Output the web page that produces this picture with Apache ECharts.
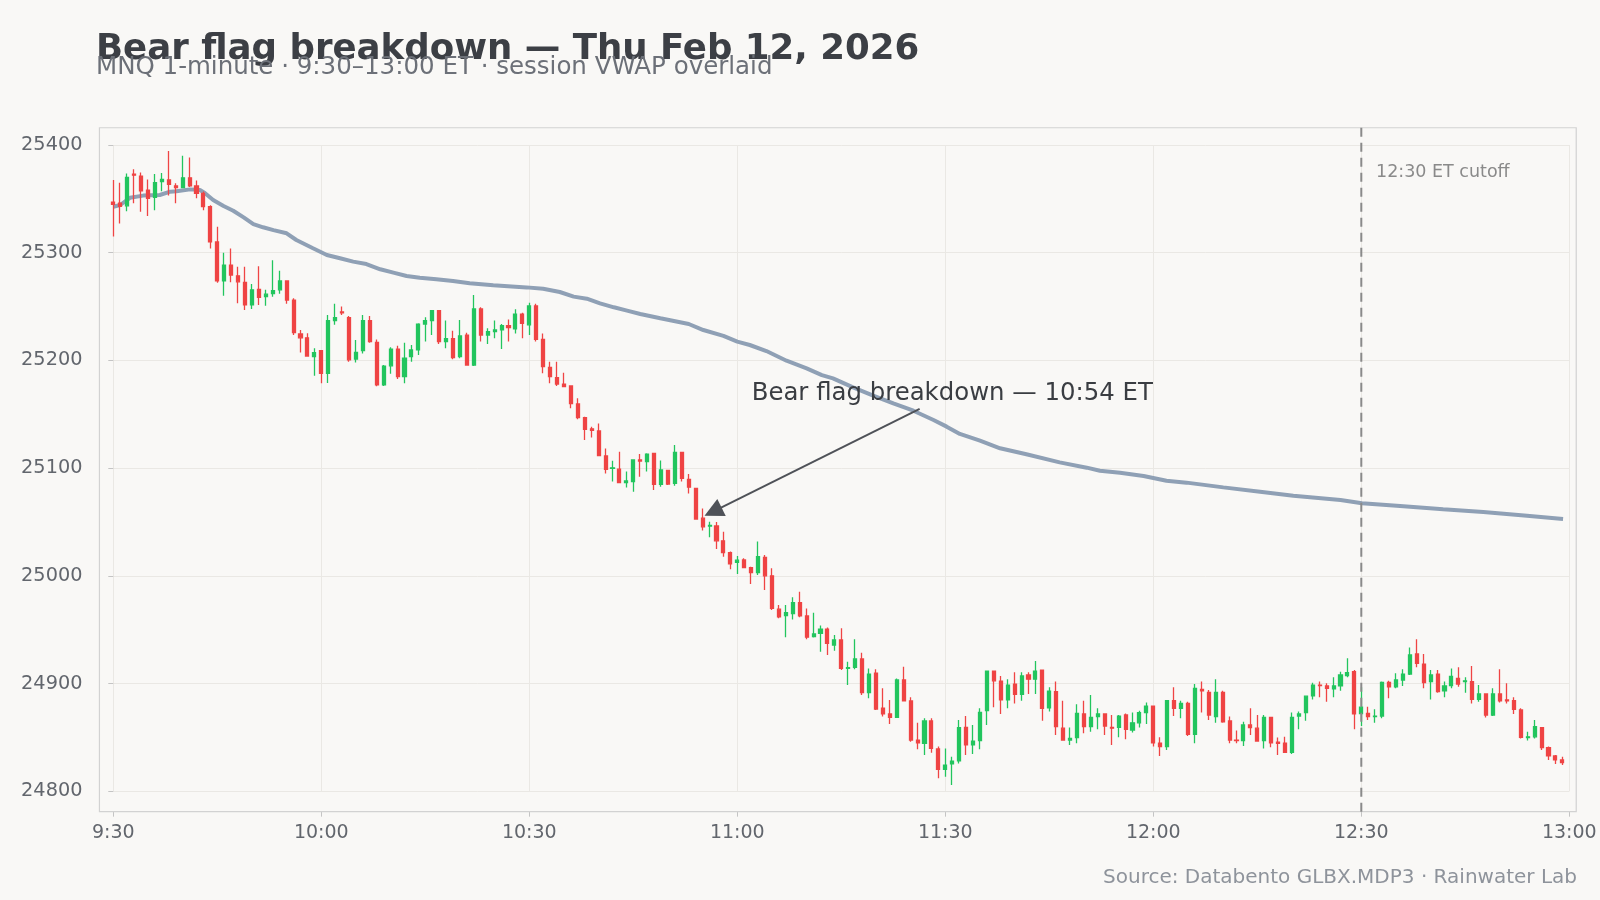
<!DOCTYPE html>
<html>
<head>
<meta charset="utf-8">
<script src="https://cdn.jsdelivr.net/npm/echarts@6/dist/echarts.min.js"></script>
<style>
html,body{margin:0;padding:0;background:#f9f8f6;}
#c{width:1600px;height:900px;}
</style>
</head>
<body>
<div id="c"></div>
<script>
// ---- data (minute index 0 = 9:30 ET) ----
const opens = [
25347,25346,25343.5,25373,25371,25358,25351.5,25366,25367.5,25362,
25360.5,25369.5,25362,25355,25342.75,25310,25273.75,25288.5,25278.5,25272.5,
25251.5,25266,25259.25,25262,25265.5,25273.75,25256,25224.5,25221,25203.5,
25209,25188,25237,25245,25239.75,25201.25,25209,25237,25216.75,25177.25,
25195,25210.5,25185,25203.5,25209.75,25233.75,25237,25246.25,25217.5,25220.25,
25203.5,25223.5,25195.75,25247.75,25223.5,25226.75,25228.25,25232.25,25229.25,25243,
25233,25250.5,25219.5,25193.5,25184,25178,25176.25,25159.5,25146.75,25136.5,
25134.5,25111.25,25099.75,25099,25086.5,25087.5,25107.5,25106,25113.75,25085,
25097.75,25085.75,25114.5,25089.5,25081.25,25053.5,25046.25,25046.25,25032.5,25021.5,
25012.5,25014.75,25007.5,25003,25017,25000,24969,24963,24965,24975,
24962.75,24943.5,24946.5,24950.5,24935.75,24940.5,24914,24915,24922.75,24891.5,
24909.5,24877,24871.75,24868.5,24903.25,24883.75,24847.5,24844.5,24865.25,24839.25,
24820.25,24825.5,24828.25,24859.25,24843,24847,24874.75,24911.5,24902.25,24884.75,
24899.5,24890,24908,24904,24912.5,24877.5,24892.5,24858.5,24847.5,24849.75,
24871.75,24860,24869.25,24871.75,24859.25,24859.25,24870.75,24856.75,24863.5,24873,
24879,24844.5,24841.5,24884,24877,24881.5,24852.75,24894.5,24891.75,24869.25,
24891.75,24865.25,24847.5,24847,24861.5,24858.5,24847,24868.5,24845.5,24844.5,
24836,24869.75,24873,24888.5,24898.5,24897.75,24895,24897.75,24907.25,24911,
24872,24872.25,24869.25,24869.75,24901,24897,24903.25,24908.75,24927.5,24918,
24901.75,24908.75,24893.25,24898,24904.75,24901.75,24901.75,24885.25,24890.25,24870.75,
24890.25,24884.75,24884,24875.5,24849.75,24850.5,24859,24840.5,24832.75,24829
];
const highs = [
25367.5,25365,25373.5,25377.5,25374.5,25368,25373,25374,25394.5,25364.5,
25390,25388.5,25367,25356.75,25344,25324,25300,25304,25287,25287,
25271,25287.5,25265.5,25293,25283.25,25274.5,25257.75,25228.25,25225.25,25211.25,
25209.5,25242.25,25252.5,25250,25241.25,25219,25242.25,25241.25,25219.5,25195.75,
25212.25,25213.5,25216.5,25214.25,25234.5,25240,25246.75,25246.75,25237,25227.5,
25237.5,25225.75,25260.75,25249.25,25229.75,25237,25233.75,25238,25247.5,25244.25,
25253.5,25252.5,25225,25198.75,25198.75,25188.5,25176.5,25164.75,25147.75,25138.5,
25141.5,25118.25,25106.75,25115.25,25096.75,25108,25113,25113.75,25114,25107,
25098.25,25121.5,25115.25,25094.5,25081.5,25062.5,25050.25,25050,25041,25022.5,
25018.5,25016.25,25008.5,25031.75,25019.25,25007,24973,24973,24980,24985.25,
24969.75,24965.75,24953.75,24952,24945,24951.25,24920.25,24941,24928.5,24914,
24913.25,24895.5,24884.75,24904.75,24915.5,24887.25,24863.5,24867.75,24867.75,24841.5,
24839.75,24832,24866,24869.75,24861.5,24877,24911.5,24911.75,24907,24904,
24910.5,24910.5,24910.5,24921,24912.75,24896.5,24901.75,24884,24859.25,24880.75,
24884,24889.25,24877,24872,24870.75,24870.75,24872.25,24873,24874.75,24882.25,
24879.25,24850,24884.75,24896.5,24884,24883,24899.5,24901.75,24894,24904,
24893.25,24869.25,24856.25,24864.5,24877,24870.75,24870.75,24868.75,24849.75,24850.5,
24873,24874,24888.5,24900.75,24901.75,24900.25,24905.75,24911,24923.5,24912.5,
24896.5,24878.5,24876,24901.75,24902.5,24909.5,24913.25,24933.5,24941,24927.5,
24912.5,24912.5,24901.75,24914,24915,24905.75,24916.25,24898.5,24890.5,24895.5,
24913.25,24900.25,24887.25,24877,24855.25,24866,24859.25,24841.5,24833.5,24832
];
const lows = [
25315,25327,25338.5,25346,25338,25334,25339.5,25357,25353,25346,
25360,25361,25350.5,25339.5,25304,25272,25260,25272.5,25253,25246.75,
25247.75,25251.5,25250.75,25259,25262,25252.5,25223.5,25207.25,25203.5,25185.75,
25178.75,25179,25233,25242.25,25198.75,25198,25206.5,25216.5,25176,25176.25,
25187.5,25182.75,25178.75,25198.75,25205,25217.5,25223.5,25215.25,25211.25,25201,
25202,25195.5,25194.75,25217.5,25215.25,25220.5,25210.5,25217.5,25225,25220.5,
25223.5,25217.5,25188,25178.75,25176.25,25175.5,25155.5,25145.25,25126,25128.5,
25111,25095,25087.5,25086,25082,25078,25092,25096.75,25079.75,25082.75,
25084.25,25083.5,25087.5,25076.5,25052.5,25042,25035.75,25025,25017.75,25006,
25001.75,25007,24992.5,25000.75,24986.75,24968.25,24960.5,24943,24959.5,24961.5,
24941,24942.75,24929.5,24926.5,24930.5,24912.5,24898.5,24913.25,24889.25,24886.25,
24875.5,24869.25,24862.5,24868.25,24883.25,24846,24839,24833.5,24835.75,24812,
24813.5,24805.75,24825.75,24833.5,24834.5,24839,24861.5,24878,24871.75,24877,
24881.5,24884,24890.25,24890.25,24865.5,24874,24852.25,24847.25,24843,24844.5,
24853.75,24855.25,24857.5,24852.25,24843,24850,24848.25,24854.5,24859.25,24862.5,
24841.5,24832.75,24838.25,24869.75,24867.75,24851.25,24844.5,24873,24866,24863.5,
24863.5,24844.5,24844.5,24842,24852.25,24846,24839.75,24840.75,24833.5,24835.75,
24834.5,24857.5,24865.5,24885.25,24887.25,24883,24887.25,24893.25,24905.75,24857.5,
24860.5,24866,24863.5,24867.75,24886.25,24895.5,24897.75,24908,24915,24895.5,
24885.25,24891.5,24887.25,24895.5,24897,24891.5,24881.5,24883,24868.5,24869.75,
24882.25,24881.5,24871.75,24849,24847,24849,24838.25,24829,24825.25,24824.25
];
const closes = [
25345,25343,25370,25372,25357.5,25350.5,25365,25368,25363.5,25360.5,
25369.5,25362,25355,25342.75,25310,25273.75,25288.5,25279.25,25273,25251.5,
25265.5,25258.5,25261.5,25264.75,25273.75,25256,25225.75,25221,25204,25207.25,
25188,25237,25239.75,25244.25,25200.5,25207.5,25237,25217.5,25177.25,25194.75,
25210.5,25185,25202,25209.75,25233.75,25237,25246.25,25217.5,25220.25,25202.5,
25222.75,25195.75,25247.75,25223.5,25226.75,25228.25,25232.25,25230.5,25243,25234.5,
25250.5,25219.5,25194.25,25185,25178,25175.75,25160,25147,25136,25135,
25111.5,25098.75,25100.25,25086.5,25088,25107.5,25106.5,25113,25085,25098.25,
25085.25,25114.5,25090.5,25082.25,25052.75,25045.5,25046.75,25032.5,25021.5,25011,
25014.5,25007.5,25003,25017.75,25000,24969.75,24962,24965.75,24975,24962.75,
24943,24946,24950.5,24937.25,24940.5,24914,24914.75,24922.75,24891.5,24908.75,
24876.25,24871.75,24868.5,24903.25,24884,24847.5,24845,24865.25,24839.75,24820.25,
24824.25,24828,24859,24843,24846.5,24873.25,24911.5,24902.5,24884.75,24898.5,
24890,24907,24904,24911.5,24877,24893,24860,24847.5,24849,24872.25,
24860,24868.5,24871.75,24860.5,24858.5,24869.75,24857.5,24863.5,24873,24879,
24845,24841.5,24884,24877,24881.5,24852.75,24895.5,24893.25,24870.75,24891.75,
24864.5,24847.5,24847,24861.5,24859,24846.5,24868.5,24845,24844.5,24836,
24868.5,24871.75,24888.25,24898.5,24898,24895.5,24897.75,24908,24910,24871.75,
24878,24869.25,24869.75,24901,24897,24903.25,24908.75,24926.5,24918.75,24900.75,
24908,24892.5,24897.75,24906.5,24899.5,24902.5,24885.25,24890.25,24870.75,24890.25,
24884,24884,24876,24850,24850.5,24860,24840.5,24832.75,24829,24826.5
];
const vwapMinutes = [
0,1,2.4,4.3,6.7,8.2,9.1,11.1,12.5,13.2,
14.4,15.9,17.3,18.8,20.2,21.6,23.1,25,26.4,28.8,
30.8,32.7,34.6,36.5,38.5,40.4,42.3,44.2,46.6,49,
51.4,54.8,59.6,62,64.4,66.4,68.3,70.2,72.2,74.1,
76,78.9,83,85.1,88,90,91.8,94.2,97.1,100,
102.2,103.8,106.7,109.6,112.5,115.4,118.3,120.2,122.1,125,
127.9,131.7,136.5,140.4,142.3,145.2,148.6,151.9,154.8,160.1,
165.4,170.2,177,180.1,185.6,191.8,197.6,203.9,209.1
];
const vwapValues = [
25342.7,25344.3,25351,25353,25353.6,25356.7,25357,25358.8,25358.2,25355.5,
25349,25343.4,25339,25332.8,25326.6,25323.6,25321,25318,25311.8,25304.1,
25297.9,25294.8,25291.7,25289.5,25284.6,25281.5,25278.4,25276.8,25275.3,25273.7,
25271.6,25269.7,25267.8,25266.6,25263.5,25259.2,25257.3,25253,25249.3,25246.2,
25243.1,25239.1,25233.8,25228.2,25222.7,25217.4,25214.3,25208.7,25199.7,25192.6,
25186.4,25183.3,25175,25167.3,25160.1,25153.3,25144.7,25138.5,25131.7,25125.5,
25118.4,25112.8,25105.3,25100.4,25097.6,25095.6,25092.7,25088.3,25086.5,25082.1,
25078.1,25074.4,25070.4,25067.3,25064.8,25061.7,25059.2,25055.8,25052.7
];
const timeLabels = ['9:30','10:00','10:30','11:00','11:30','12:00','12:30','13:00'];
const titleText = 'Bear flag breakdown — Thu Feb 12, 2026';
const subtitleText = 'MNQ 1-minute · 9:30–13:00 ET · session VWAP overlaid';
const sourceText = 'Source: Databento GLBX.MDP3 · Rainwater Lab';
const cutoffMinute = 180;
const cutoffText = '12:30 ET cutoff';
const annotationText = 'Bear flag breakdown — 10:54 ET';
const annotationTip = [86.5, 25059.6];
const annotationTail = [116.3, 25154.9];
const annotationLabelAt = [92.0, 25168.8];
const cutoffLabelAt = [182.05, 25374.5];
const frameX = [-2, 211];
const frameY = [24781, 25416];

// ---- chart ----
const FONT = 'DejaVu Sans';
const GRID = {left: 113.3, right: 30.7, top: 145, bottom: 108.8};
const candles = closes.map((c, i) => [i, opens[i], c, lows[i], highs[i]]);
const vwap = vwapMinutes.map((m, i) => [m, vwapValues[i]]);

const chart = echarts.init(document.getElementById('c'));
const option = {
  animation: false,
  backgroundColor: '#f9f8f6',
  textStyle: {fontFamily: FONT},
  grid: Object.assign({containLabel: false}, GRID),
  xAxis: {
    type: 'value', min: 0, max: 210, interval: 30,
    axisLine: {show: false},
    axisTick: {show: true, length: 5, lineStyle: {color: '#c4c4c4'}},
    axisLabel: {fontSize: 19, color: '#62666d', margin: 12, fontFamily: FONT,
      formatter: v => timeLabels[Math.round(v / 30)] || ''},
    splitLine: {show: true, lineStyle: {color: '#eae8e4', width: 1}}
  },
  yAxis: {
    type: 'value', min: 24800, max: 25400, interval: 100,
    axisLine: {show: false},
    axisTick: {show: true, length: 5, lineStyle: {color: '#c4c4c4'}},
    axisLabel: {fontSize: 19.3, color: '#62666d', margin: 17, fontFamily: FONT,
      formatter: v => String(v)},
    splitLine: {show: true, lineStyle: {color: '#eae8e4', width: 1}}
  },
  series: [
    {
      type: 'line', name: 'VWAP', data: vwap, showSymbol: false, symbol: 'none',
      lineStyle: {color: '#8fa0b5', width: 4}, z: 2, silent: true
    },
    {
      type: 'candlestick', name: 'MNQ', data: candles,
      encode: {x: 0, y: [1, 2, 3, 4]},
      barWidth: 3.6, clip: false, z: 3,
      itemStyle: {color: '#22c55e', color0: '#ef4444', borderColor: '#22c55e', borderColor0: '#ef4444', borderWidth: 1.3},
      markLine: {
        silent: true, symbol: ['none', 'triangle'], symbolSize: 19,
        label: {show: false},
        lineStyle: {color: '#4f5258', width: 2, type: 'solid'},
        itemStyle: {color: '#4f5258'},
        data: [[{coord: annotationTail}, {coord: annotationTip}]]
      }
    },
    {
      type: 'line', name: 'cutoff', data: [[cutoffMinute, frameY[0]], [cutoffMinute, frameY[1]]],
      symbol: 'none', clip: false, z: 4, silent: true,
      lineStyle: {color: '#8a8a8a', width: 2, type: [9, 6]}
    },
    {
      type: 'scatter', name: 'labels', symbolSize: 1, z: 5, silent: true,
      itemStyle: {color: 'rgba(0,0,0,0)', opacity: 1},
      data: [
        {value: annotationLabelAt, label: {show: true, position: 'right', distance: 0, formatter: annotationText, fontSize: 24.4, color: '#3a3d42', opacity: 1, fontFamily: FONT}},
        {value: cutoffLabelAt, label: {show: true, position: 'right', distance: 0, formatter: cutoffText, fontSize: 17.5, color: '#8a8a8a', opacity: 1, fontFamily: FONT}}
      ]
    }
  ]
};
chart.setOption(option);

const tl = chart.convertToPixel({gridIndex: 0}, [frameX[0], frameY[1]]);
const br = chart.convertToPixel({gridIndex: 0}, [frameX[1], frameY[0]]);
const gridBottomPx = 900 - GRID.bottom;
chart.setOption({
  xAxis: {offset: br[1] - gridBottomPx},
  yAxis: {offset: GRID.left - tl[0]},
  graphic: [
    {type: 'rect', z: 1, silent: true,
      shape: {x: tl[0], y: tl[1], width: br[0] - tl[0], height: br[1] - tl[1]},
      style: {fill: 'none', stroke: '#d2d2d2', lineWidth: 1.2}},
    {type: 'text', z: 10, silent: true,
      style: {x: 96, y: 50, text: titleText, font: 'bold 35.6px "DejaVu Sans"', fill: '#3c3f45', textVerticalAlign: 'middle'}},
    {type: 'text', z: 10, silent: true,
      style: {x: 96, y: 68, text: subtitleText, font: '24.5px "DejaVu Sans"', fill: '#6c7078', textVerticalAlign: 'middle'}},
    {type: 'text', z: 10, silent: true,
      style: {x: 1577, y: 878, text: sourceText, font: '20px "DejaVu Sans"', fill: '#8e939b', textAlign: 'right', textVerticalAlign: 'middle'}}
  ]
});
</script>
</body>
</html>
